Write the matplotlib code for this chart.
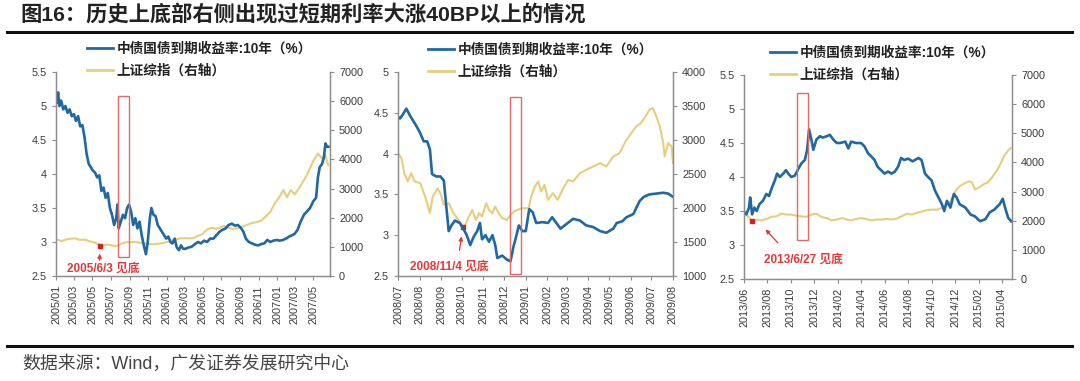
import matplotlib
matplotlib.use('Agg')
import matplotlib.pyplot as plt
import matplotlib.dates as mdates
from matplotlib.patches import Rectangle
from matplotlib.lines import Line2D
import pandas as pd

plt.rcParams['font.family'] = ['Liberation Sans', 'Noto Sans CJK SC', 'DejaVu Sans']

# ---------------- data ----------------
title_text = "图16：历史上底部右侧出现过短期利率大涨40BP以上的情况"
source_text = "数据来源：Wind，广发证券发展研究中心"
legend_labels = ["中债国债到期收益率:10年（%）", "上证综指（右轴）"]

# Panel 1: 2005/01 - 2007/06
p1_yield_dates = ["2005-01-04","2005-01-08","2005-01-12","2005-01-18","2005-01-25","2005-02-01","2005-02-08",
    "2005-02-15","2005-02-22","2005-03-01","2005-03-08","2005-03-15","2005-03-22","2005-03-29","2005-04-05",
    "2005-04-12","2005-04-19","2005-04-26","2005-05-03","2005-05-10","2005-05-17","2005-05-24","2005-05-31",
    "2005-06-07","2005-06-14","2005-06-21","2005-06-28","2005-07-05","2005-07-12","2005-07-19","2005-07-23",
    "2005-07-27","2005-08-03","2005-08-10","2005-08-17","2005-08-24","2005-08-30","2005-09-06","2005-09-13",
    "2005-09-20","2005-09-27","2005-10-04","2005-10-11","2005-10-18","2005-10-25","2005-10-31","2005-11-07",
    "2005-11-12","2005-11-19","2005-11-26","2005-12-03","2005-12-10","2005-12-17","2005-12-24","2005-12-31",
    "2006-01-07","2006-01-14","2006-01-21","2006-01-28","2006-02-04","2006-02-11","2006-02-18","2006-02-25",
    "2006-03-04","2006-03-15","2006-03-25","2006-04-05","2006-04-15","2006-04-25","2006-05-05","2006-05-15",
    "2006-05-25","2006-06-05","2006-06-15","2006-06-25","2006-07-05","2006-07-15","2006-07-25","2006-08-05",
    "2006-08-15","2006-08-25","2006-09-05","2006-09-12","2006-09-20","2006-09-30","2006-10-10","2006-10-20",
    "2006-10-31","2006-11-10","2006-11-20","2006-11-30","2006-12-10","2006-12-20","2006-12-31","2007-01-10",
    "2007-01-20","2007-01-31","2007-02-10","2007-02-20","2007-02-28","2007-03-10","2007-03-20","2007-03-31",
    "2007-04-10","2007-04-20","2007-05-01","2007-05-10","2007-05-16","2007-05-22","2007-05-30","2007-06-05",
    "2007-06-10","2007-06-15","2007-06-20"]
p1_yield = [5.05,5.20,5.00,5.08,4.95,5.00,4.90,
    4.95,4.85,4.88,4.78,4.85,4.70,4.72,4.55,
    4.30,4.15,4.10,4.05,4.02,3.95,3.98,3.75,
    3.80,3.65,3.72,3.50,3.40,3.25,3.35,3.55,
    3.20,3.30,3.40,3.35,3.50,3.55,3.45,3.25,
    3.35,3.20,3.30,3.10,2.95,2.82,3.00,3.35,
    3.50,3.40,3.38,3.25,3.20,3.15,3.10,3.05,
    3.08,3.00,2.98,3.05,2.92,2.88,2.95,2.90,
    2.90,2.92,2.93,2.97,3.00,2.98,3.02,3.00,
    3.05,3.05,3.10,3.15,3.18,3.20,3.25,3.27,
    3.24,3.25,3.20,3.15,3.05,3.00,2.98,2.96,
    2.95,2.97,2.98,3.03,3.00,3.02,3.03,3.02,
    3.03,3.05,3.08,3.10,3.12,3.18,3.30,3.40,
    3.45,3.50,3.60,3.65,3.95,4.10,4.15,4.25,
    4.45,4.40,4.40]
p1_index_dates = ["2005-01-04","2005-01-20","2005-02-05","2005-02-20","2005-03-05","2005-03-20","2005-04-05",
    "2005-04-20","2005-05-05","2005-05-20","2005-06-03","2005-06-15","2005-06-30","2005-07-15","2005-07-30",
    "2005-08-15","2005-08-30","2005-09-15","2005-09-30","2005-10-15","2005-10-30","2005-11-15","2005-11-30",
    "2005-12-15","2005-12-31","2006-01-15","2006-01-31","2006-02-15","2006-02-28","2006-03-15","2006-03-31",
    "2006-04-15","2006-04-30","2006-05-15","2006-05-31","2006-06-15","2006-06-30","2006-07-10","2006-07-25",
    "2006-08-10","2006-08-25","2006-09-10","2006-09-25","2006-10-10","2006-10-25","2006-11-10","2006-11-25",
    "2006-12-10","2006-12-25","2007-01-05","2007-01-14","2007-01-22","2007-02-03","2007-02-15","2007-03-01",
    "2007-03-17","2007-04-09","2007-05-01","2007-05-16","2007-05-28","2007-06-09","2007-06-19"]
p1_index = [1250,1200,1260,1280,1290,1240,1250,
    1200,1160,1100,1030,1080,1060,1020,1080,
    1150,1160,1170,1150,1130,1100,1090,1100,
    1120,1160,1200,1250,1290,1300,1290,1300,
    1380,1440,1600,1650,1620,1680,1720,1650,
    1620,1640,1700,1760,1820,1850,1900,2050,
    2200,2500,2650,2800,2950,2700,2950,2800,
    3050,3450,3950,4200,4050,4150,3800]

# Panel 2: 2008/07 - 2009/08
p2_yield_dates = ["2008-07-01","2008-07-04","2008-07-08","2008-07-13","2008-07-18","2008-07-23","2008-07-28",
    "2008-08-02","2008-08-07","2008-08-12","2008-08-16","2008-08-19","2008-08-25","2008-08-31","2008-09-05",
    "2008-09-08","2008-09-12","2008-09-16","2008-09-21","2008-09-28","2008-10-03","2008-10-08","2008-10-13",
    "2008-10-18","2008-10-23","2008-10-27","2008-10-30","2008-11-04","2008-11-09","2008-11-14","2008-11-18",
    "2008-11-21","2008-11-28","2008-12-05","2008-12-10","2008-12-14","2008-12-18","2008-12-22","2008-12-27",
    "2009-01-01","2009-01-06","2009-01-11","2009-01-16","2009-01-25","2009-02-02","2009-02-08","2009-02-14",
    "2009-02-20","2009-03-01","2009-03-10","2009-03-20","2009-03-29","2009-04-08","2009-04-18","2009-04-27",
    "2009-05-07","2009-05-12","2009-05-20","2009-05-26","2009-06-05","2009-06-10","2009-06-14","2009-06-20",
    "2009-06-28","2009-07-08","2009-07-18","2009-07-25","2009-08-01"]
p2_yield = [4.45,4.43,4.48,4.55,4.47,4.40,4.33,
    4.25,4.15,4.15,4.05,3.75,3.72,3.72,3.67,
    3.40,3.05,3.12,3.18,3.15,3.08,3.00,2.88,
    2.98,3.05,3.15,2.95,3.00,2.92,3.00,2.88,
    2.72,2.75,2.70,2.68,2.85,2.98,3.12,3.05,
    3.05,3.32,3.28,3.15,3.16,3.15,3.22,3.15,
    3.08,3.14,3.20,3.18,3.12,3.10,3.05,3.03,
    3.08,3.15,3.17,3.22,3.26,3.35,3.42,3.47,
    3.50,3.51,3.52,3.51,3.47]
p2_index_dates = ["2008-07-01","2008-07-06","2008-07-10","2008-07-15","2008-07-20","2008-07-25","2008-08-02",
    "2008-08-09","2008-08-16","2008-08-20","2008-08-27","2008-09-01","2008-09-05","2008-09-12","2008-09-19",
    "2008-09-26","2008-10-01","2008-10-06","2008-10-11","2008-10-16","2008-10-21","2008-10-26","2008-10-30",
    "2008-11-05","2008-11-09","2008-11-14","2008-11-18","2008-11-23","2008-11-28","2008-12-05","2008-12-10",
    "2008-12-15","2008-12-20","2008-12-27","2009-01-05","2009-01-09","2009-01-14","2009-01-19","2009-01-23",
    "2009-01-28","2009-02-02","2009-02-09","2009-02-16","2009-02-24","2009-03-03","2009-03-10","2009-03-20",
    "2009-03-29","2009-04-08","2009-04-18","2009-04-27","2009-05-07","2009-05-16","2009-05-26","2009-06-02",
    "2009-06-09","2009-06-16","2009-06-24","2009-06-28","2009-07-03","2009-07-08","2009-07-13","2009-07-18",
    "2009-07-20","2009-07-25","2009-07-30","2009-08-01"]
p2_index = [2807,2733,2512,2390,2512,2390,2365,
    2170,1923,2170,2290,2193,2046,2070,1923,
    1825,1727,1751,1874,1972,1825,1923,1874,
    2070,1972,1923,2021,1923,1850,1825,1898,
    1948,1972,1997,1997,2170,2316,2390,2242,
    2340,2120,2218,2120,2290,2414,2390,2512,
    2561,2610,2660,2610,2758,2807,3003,3101,
    3200,3249,3372,3445,3470,3347,3200,2954,
    2758,2954,2905,2660]

# Panel 3: 2013/06 - 2015/04
p3_yield_dates = ["2013-06-01","2013-06-07","2013-06-14","2013-06-17","2013-06-22","2013-06-28","2013-07-04",
    "2013-07-11","2013-07-20","2013-07-29","2013-08-05","2013-08-11","2013-08-20","2013-08-26","2013-09-02",
    "2013-09-11","2013-09-18","2013-09-24","2013-10-02","2013-10-11","2013-10-20","2013-10-28","2013-11-06",
    "2013-11-12","2013-11-17","2013-11-23","2013-11-28","2013-12-06","2013-12-15","2013-12-23","2014-01-02",
    "2014-01-10","2014-01-19","2014-01-28","2014-02-06","2014-02-19","2014-02-27","2014-03-06","2014-03-19",
    "2014-04-01","2014-04-10","2014-04-19","2014-04-28","2014-05-06","2014-05-14","2014-05-23","2014-06-01",
    "2014-06-10","2014-06-19","2014-06-28","2014-07-06","2014-07-14","2014-07-22","2014-08-01","2014-08-13",
    "2014-08-28","2014-09-05","2014-09-14","2014-09-22","2014-10-01","2014-10-10","2014-10-19","2014-10-28",
    "2014-11-03","2014-11-10","2014-11-19","2014-11-28","2014-12-05","2014-12-13","2014-12-28","2015-01-10",
    "2015-01-22","2015-02-04","2015-02-18","2015-03-01","2015-03-13","2015-03-27","2015-04-04","2015-04-10",
    "2015-04-18","2015-04-26"]
p3_yield = [3.49,3.45,3.55,3.70,3.45,3.55,3.50,
    3.60,3.65,3.75,3.72,3.82,3.95,4.05,4.00,
    4.05,4.10,4.05,4.00,4.02,4.12,4.20,4.25,
    4.40,4.70,4.55,4.40,4.55,4.60,4.58,4.60,
    4.62,4.55,4.50,4.50,4.52,4.42,4.52,4.50,
    4.50,4.45,4.35,4.30,4.25,4.15,4.10,4.05,
    4.08,4.05,4.08,4.15,4.28,4.25,4.27,4.23,
    4.28,4.25,4.05,4.00,3.95,3.80,3.70,3.60,
    3.50,3.65,3.55,3.75,3.70,3.60,3.55,3.45,
    3.42,3.35,3.38,3.48,3.52,3.60,3.68,3.55,
    3.40,3.35]
p3_index_dates = ["2013-06-01","2013-06-11","2013-06-22","2013-07-03","2013-07-16","2013-07-29","2013-08-11",
    "2013-08-24","2013-09-06","2013-09-19","2013-10-02","2013-10-15","2013-10-28","2013-11-10","2013-11-23",
    "2013-12-06","2013-12-19","2014-01-02","2014-01-15","2014-01-28","2014-02-10","2014-02-23","2014-03-06",
    "2014-03-19","2014-04-01","2014-04-14","2014-04-28","2014-05-11","2014-05-24","2014-06-07","2014-06-20",
    "2014-07-02","2014-07-15","2014-07-29","2014-08-11","2014-08-24","2014-09-06","2014-09-19","2014-10-02",
    "2014-10-15","2014-10-28","2014-11-10","2014-11-19","2014-11-28","2014-12-05","2014-12-13","2014-12-28",
    "2015-01-06","2015-01-14","2015-01-22","2015-01-30","2015-02-12","2015-02-25","2015-03-09","2015-03-21",
    "2015-03-30","2015-04-07","2015-04-16","2015-04-25"]
p3_index = [2300,2150,1980,2040,2010,2060,2130,
    2150,2240,2210,2210,2170,2150,2130,2210,
    2240,2130,2090,2010,2040,2090,2040,2010,
    2060,2090,2060,2010,2040,2040,2060,2040,
    2070,2150,2240,2210,2270,2320,2360,2380,
    2380,2440,2550,2670,2900,3070,3180,3300,
    3350,3320,3070,3120,3240,3320,3520,3750,
    3980,4210,4380,4500]

# highlight boxes (start, end, y_low, y_high) on left axis
p1_box = ("2005-07-24", "2005-08-30", 2.78, 5.14)
p2_box = ("2008-12-09", "2008-12-25", 2.525, 4.69)
p3_box = ("2013-10-16", "2013-11-14", 3.07, 5.235)
# bottom marks (date, index value) and labels
p1_mark = ("2005-05-25", 1040, "2005/6/3 见底")
p2_mark = ("2008-10-03", 1715, "2008/11/4 见底")
p3_mark = ("2013-06-22", 1980, "2013/6/27 见底")

# ---------------- style ----------------
BLUE = '#1f68a3'
GOLD = '#e8cd7c'
RED = '#e23a3a'
SPINE = '#8c8c8c'
TXT = '#3a3a3a'
CJK = ['Liberation Sans', 'Noto Sans CJK SC']

fig = plt.figure(figsize=(10.8, 3.81), dpi=100)
W, H = 1080, 381

def fx(px):
    return px / W

def fy(py):
    return 1 - py / H

panels = [
    dict(rect=[fx(56), fy(276), fx(330 - 56), (276 - 72) / H],
         xlim=("2005-01-01", "2007-06-25"), tick_freq='2MS', tick_start="2005-01-01", tick_end="2007-05-01",
         ylim=(2.5, 5.5), yticks=[2.5, 3, 3.5, 4, 4.5, 5, 5.5],
         y2lim=(0, 7000), y2ticks=list(range(0, 7001, 1000)),
         yd=p1_yield_dates, yv=p1_yield, idd=p1_index_dates, iv=p1_index,
         box=p1_box, mark=p1_mark,
         arrow=(("2005-05-25", 2.69), ("2005-05-25", 2.87)), label_pos=("2005-06-05", 2.61),
         leg=(87, 51)),
    dict(rect=[fx(398), fy(276), fx(673 - 398), (276 - 72) / H],
         xlim=("2008-07-01", "2009-08-01"), tick_freq='MS', tick_start="2008-07-01", tick_end="2009-08-01",
         ylim=(2.5, 5.0), yticks=[2.5, 3, 3.5, 4, 4.5, 5],
         y2lim=(1000, 4000), y2ticks=list(range(1000, 4001, 500)),
         yd=p2_yield_dates, yv=p2_yield, idd=p2_index_dates, iv=p2_index,
         box=p2_box, mark=p2_mark,
         arrow=(("2008-09-27", 2.78), ("2008-10-01", 3.02)), label_pos=("2008-09-13", 2.62),
         leg=(428, 52)),
    dict(rect=[fx(744), fy(279), fx(1012 - 744), (279 - 75) / H],
         xlim=("2013-06-01", "2015-04-28"), tick_freq='2MS', tick_start="2013-06-01", tick_end="2015-04-01",
         ylim=(2.5, 5.5), yticks=[2.5, 3, 3.5, 4, 4.5, 5, 5.5],
         y2lim=(0, 7000), y2ticks=list(range(0, 7001, 1000)),
         yd=p3_yield_dates, yv=p3_yield, idd=p3_index_dates, iv=p3_index,
         box=p3_box, mark=p3_mark,
         arrow=(("2013-09-02", 3.0), ("2013-07-22", 3.26)), label_pos=("2013-11-02", 2.79),
         leg=(770, 55)),
]

for p in panels:
    ax = fig.add_axes(p['rect'])
    ax2 = ax.twinx()
    ax.set_zorder(ax2.get_zorder() + 1)
    ax.patch.set_visible(False)

    ax2.plot(pd.to_datetime(p['idd']), p['iv'], color=GOLD, lw=1.5)
    ax.plot(pd.to_datetime(p['yd']), p['yv'], color=BLUE, lw=1.9)

    ax.set_xlim(pd.Timestamp(p['xlim'][0]), pd.Timestamp(p['xlim'][1]))
    ax.set_ylim(*p['ylim'])
    ax2.set_ylim(*p['y2lim'])
    ax.set_yticks(p['yticks'])
    ax.set_yticklabels(['%g' % v for v in p['yticks']])
    ax2.set_yticks(p['y2ticks'])
    ax2.set_yticklabels([str(v) for v in p['y2ticks']])
    ticks = pd.date_range(p['tick_start'], p['tick_end'], freq=p['tick_freq'])
    ax.set_xticks(ticks)
    ax.set_xticklabels([t.strftime('%Y/%m') for t in ticks], rotation=90)

    for a in (ax, ax2):
        a.spines['top'].set_visible(False)
        for s in ('left', 'right', 'bottom'):
            a.spines[s].set_color(SPINE)
            a.spines[s].set_linewidth(0.9)
        a.tick_params(axis='both', colors=SPINE, labelcolor=TXT, labelsize=7.8, length=3, width=0.8,
                      direction='out', pad=3.5)

    # highlight box
    x0 = mdates.date2num(pd.Timestamp(p['box'][0]))
    x1 = mdates.date2num(pd.Timestamp(p['box'][1]))
    ax.add_patch(Rectangle((x0, p['box'][2]), x1 - x0, p['box'][3] - p['box'][2],
                           fill=False, edgecolor='#e06a6a', lw=1.0, zorder=5))

    # bottom mark
    md, mv, mtxt = p['mark']
    ax2.plot([pd.Timestamp(md)], [mv], 's', color='#d42020', ms=3, zorder=6)
    (ax_s, ay_s), (ax_e, ay_e) = p['arrow']
    ax.annotate('', xy=(pd.Timestamp(ax_e), ay_e), xytext=(pd.Timestamp(ax_s), ay_s),
                arrowprops=dict(arrowstyle='-|>', color=RED, lw=0.9, mutation_scale=6), zorder=6)
    ax.text(pd.Timestamp(p['label_pos'][0]), p['label_pos'][1], mtxt, color=RED, fontsize=8.5,
            fontweight='bold', ha='center', va='center', zorder=6, family=CJK)

    # legend
    handles = [Line2D([], [], color=BLUE, lw=2.0), Line2D([], [], color=GOLD, lw=2.0)]
    lx, ly = p['leg']
    leg = fig.legend(handles, legend_labels, loc='upper left',
                     bbox_to_anchor=(fx(lx), fy(ly - 9)), frameon=False, borderpad=0, borderaxespad=0,
                     handlelength=1.9, handletextpad=0.3, labelspacing=0.55,
                     prop=dict(family=CJK, size=9.8, weight='bold'))
    for t in leg.get_texts():
        t.set_color('#222222')

# title, rules, footer
fig.text(fx(20), fy(15), title_text, fontsize=15.3, fontweight='bold', color='#222222',
         ha='left', va='center', family=CJK)
fig.add_artist(Line2D([fx(7), fx(1072)], [fy(32), fy(32)], color='#111111', lw=2.2))
fig.add_artist(Line2D([fx(7), fx(1072)], [fy(346), fy(346)], color='#111111', lw=2.2))
fig.text(fx(22), fy(364), source_text, fontsize=12.9, color='#444444', ha='left', va='center',
         family=CJK)

fig.savefig('out.png', dpi=100)
